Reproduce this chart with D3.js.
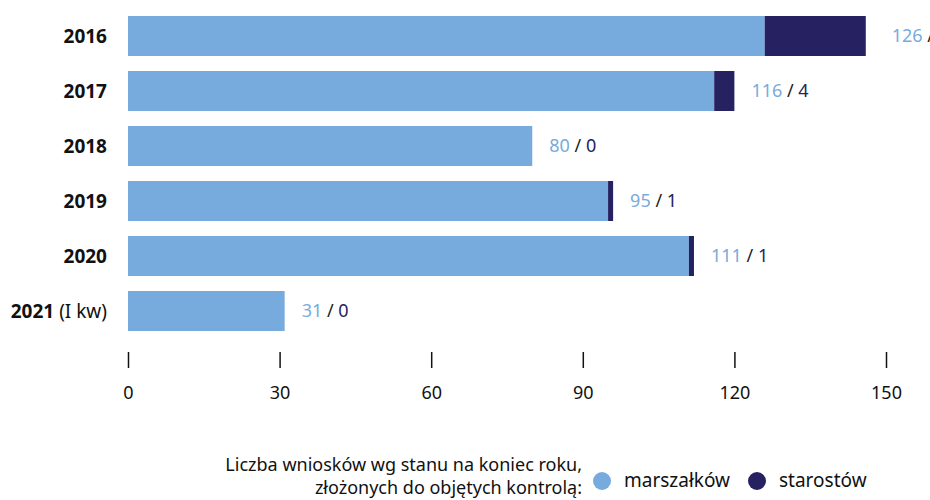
<!DOCTYPE html>
<html>
<head>
<meta charset="utf-8">
<script src="https://cdn.jsdelivr.net/npm/d3@7"></script>
<style>
  body { margin: 0; background: #fff; }
  svg text { font-family: "Noto Sans", sans-serif; }
</style>
</head>
<body>
<div id="chart"></div>
<script>
// data
var years = ["2016", "2017", "2018", "2019", "2020", "2021"];
var yearNotes = ["", "", "", "", "", " (I kw)"];
var marszalkow = [126, 116, 80, 95, 111, 31];
var starostow = [20, 4, 0, 1, 1, 0];
var ticks = [0, 30, 60, 90, 120, 150];
var seriesNames = ["marszałków", "starostów"];

var colors = ["#78abdd", "#262262"];

var svgWidth = 930;
var svgHeight = 500;

var svg = d3.select("#chart")
    .append("svg")
    .attr("width", svgWidth)
    .attr("height", svgHeight);

var x = d3.scaleLinear()
    .domain([0, 150])
    .range([128, 886]);

var y = d3.scaleBand()
    .domain(years)
    .range([8.5, 8.5 + 6 * 55])
    .paddingInner(15 / 55)
    .paddingOuter(7.5 / 55);

var rows = years.map(function (yr, i) {
    return { year: yr, note: yearNotes[i], m: marszalkow[i], s: starostow[i] };
});

// bars
svg.selectAll("rect.m")
    .data(rows)
    .enter()
    .append("rect")
    .attr("class", "m")
    .attr("x", x(0))
    .attr("y", d => y(d.year))
    .attr("width", d => x(d.m) - x(0))
    .attr("height", y.bandwidth())
    .attr("fill", colors[0]);

svg.selectAll("rect.s")
    .data(rows.filter(d => d.s > 0))
    .enter()
    .append("rect")
    .attr("class", "s")
    .attr("x", d => x(d.m))
    .attr("y", d => y(d.year))
    .attr("width", d => x(d.m + d.s) - x(d.m))
    .attr("height", y.bandwidth())
    .attr("fill", colors[1]);

// year labels
var yl = svg.selectAll("text.year")
    .data(rows)
    .enter()
    .append("text")
    .attr("class", "year")
    .attr("x", 107)
    .attr("y", d => y(d.year) + y.bandwidth() / 2)
    .attr("dy", "0.36em")
    .attr("text-anchor", "end")
    .style("font-size", "19px")
    .attr("fill", "#111");
yl.append("tspan").attr("font-weight", "bold").text(d => d.year);
yl.append("tspan").text(d => d.note);

// value labels
var vl = svg.selectAll("text.val")
    .data(rows)
    .enter()
    .append("text")
    .attr("class", "val")
    .attr("x", (d, i) => x(d.m + d.s) + (i === 0 ? 26 : 17))
    .attr("y", d => y(d.year) + y.bandwidth() / 2)
    .attr("dy", "0.36em")
    .style("font-size", "18px");
vl.append("tspan").attr("fill", colors[0]).text(d => d.m);
vl.append("tspan").attr("fill", "#222").text(" / ");
vl.append("tspan").attr("fill", colors[1]).text(d => d.s);

// axis
var axis = d3.axisBottom(x)
    .tickValues(ticks)
    .tickSize(16)
    .tickPadding(18);

var ax = svg.append("g")
    .attr("transform", "translate(0,352)")
    .call(axis);
ax.select(".domain").remove();
ax.selectAll(".tick line").attr("stroke", "#111").attr("stroke-width", 1.5);
ax.selectAll(".tick text")
    .attr("fill", "#111")
    .style("font-size", "18px")
    .style("font-family", "'Noto Sans', sans-serif");

// legend
var lg = svg.append("g");
lg.append("text")
    .attr("x", 582).attr("y", 471)
    .attr("text-anchor", "end")
    .style("font-size", "18px")
    .attr("fill", "#111")
    .text("Liczba wniosków wg stanu na koniec roku,");
lg.append("text")
    .attr("x", 582).attr("y", 494)
    .attr("text-anchor", "end")
    .style("font-size", "18px")
    .attr("fill", "#111")
    .text("złożonych do objętych kontrolą:");

var legX = [602, 757];
seriesNames.forEach(function (name, i) {
    lg.append("circle")
        .attr("cx", legX[i]).attr("cy", 481)
        .attr("r", 9)
        .attr("fill", colors[i]);
    lg.append("text")
        .attr("x", legX[i] + 22).attr("y", 480)
        .attr("dy", "0.36em")
        .style("font-size", "19px")
        .attr("fill", "#111")
        .text(name);
});
</script>
</body>
</html>
